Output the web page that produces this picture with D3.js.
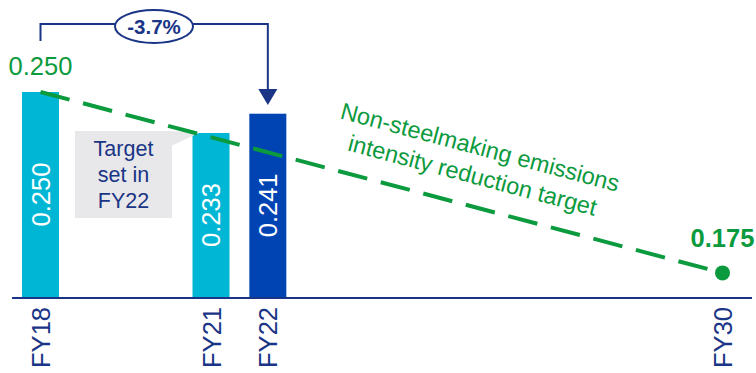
<!DOCTYPE html>
<html>
<head>
<meta charset="utf-8">
<script src="https://cdn.jsdelivr.net/npm/d3@7"></script>
<style>
    body { margin: 0; background: #fff; }
    svg { display: block; font-family: Arial, "Liberation Sans", sans-serif; }
</style>
</head>
<body>
<div id="chart"></div>
<script>
// data
var years = [18, 21, 22, 30];
var yearLabels = ['FY18', 'FY21', 'FY22', 'FY30'];
var barYears = [18, 21, 22];
var barValues = [0.250, 0.233, 0.241];
var barLabels = ['0.250', '0.233', '0.241'];
var targetYears = [18, 30];
var targetValues = [0.250, 0.175];
var changeLabel = '-3.7%';
var calloutLines = ['Target', 'set in', 'FY22'];
var targetLines = ['Non-steelmaking emissions', 'intensity reduction target'];

const W = 756, H = 373,
    Cyan = '#00b6d5', Blue = '#0044b4', Navy = '#1a3586',
    Green = '#0b9a3d', Grey = '#e8e8ea',
    BarWidth = 37;

var svg = d3.select('#chart').append('svg')
    .attr('width', W)
    .attr('height', H);

var x = d3.scaleLinear().domain([18, 30]).range([40.5, 722.5]);
var y = d3.scaleLinear().domain([0.165, 0.25]).range([297, 92]);

// bars
var bars = svg.selectAll('.bar')
    .data(barYears)
    .enter().append('g')
    .attr('class', 'bar');

bars.append('rect')
    .attr('x', d => x(d) - BarWidth / 2)
    .attr('width', BarWidth)
    .attr('y', (d, i) => y(barValues[i]))
    .attr('height', (d, i) => y(0.165) - y(barValues[i]))
    .attr('fill', d => d === 22 ? Blue : Cyan);

bars.append('text')
    .attr('transform', (d, i) =>
        `translate(${x(d) + 9},${(y(barValues[i]) + y(0.165)) / 2}) rotate(-90)`)
    .attr('text-anchor', 'middle')
    .attr('fill', '#fff')
    .style('font-size', '25.5px')
    .text((d, i) => barLabels[i]);

// axis line
svg.append('line')
    .attr('x1', 12).attr('x2', 752)
    .attr('y1', y(0.165) + 1).attr('y2', y(0.165) + 1)
    .attr('stroke', Navy)
    .attr('stroke-width', 2);

// x labels
svg.selectAll('.xlab')
    .data(years)
    .enter().append('text')
    .attr('class', 'xlab')
    .attr('transform', d => `translate(${x(d) + 9.5},307) rotate(-90)`)
    .attr('text-anchor', 'end')
    .attr('fill', Navy)
    .style('font-size', '25.5px')
    .text((d, i) => yearLabels[i]);

// callout
svg.append('path')
    .attr('d', 'M171,131 L199,133 L171,146 Z')
    .attr('fill', Grey);
svg.append('rect')
    .attr('x', 75).attr('y', 131)
    .attr('width', 97).attr('height', 87)
    .attr('fill', Grey);
svg.append('text')
    .attr('text-anchor', 'middle')
    .attr('fill', Navy)
    .style('font-size', '21.5px')
    .selectAll('tspan')
    .data(calloutLines)
    .enter().append('tspan')
    .attr('x', 123.5)
    .attr('y', (d, i) => 156 + i * 26)
    .text(d => d);

// target line
svg.append('line')
    .attr('x1', x(targetYears[0])).attr('y1', y(targetValues[0]))
    .attr('x2', x(targetYears[1])).attr('y2', y(targetValues[1]))
    .attr('stroke', Green)
    .attr('stroke-width', 4)
    .attr('stroke-dasharray', '30 14');

svg.append('circle')
    .attr('cx', x(targetYears[1])).attr('cy', y(targetValues[1]))
    .attr('r', 7.5)
    .attr('fill', Green);

svg.append('text')
    .attr('x', x(targetYears[0])).attr('y', 75)
    .attr('text-anchor', 'middle')
    .attr('fill', Green)
    .style('font-size', '25.5px')
    .text('0.250');

svg.append('text')
    .attr('x', x(targetYears[1])).attr('y', 247)
    .attr('text-anchor', 'middle')
    .attr('fill', Green)
    .style('font-size', '25.5px')
    .style('font-weight', 'bold')
    .text('0.175');

var angle = Math.atan2(y(targetValues[1]) - y(targetValues[0]),
    x(targetYears[1]) - x(targetYears[0])) * 180 / Math.PI;
svg.append('text')
    .attr('transform', `translate(478,155) rotate(${angle})`)
    .attr('text-anchor', 'middle')
    .attr('fill', Green)
    .style('font-size', '23.5px')
    .selectAll('tspan')
    .data(targetLines)
    .enter().append('tspan')
    .attr('x', 0)
    .attr('y', (d, i) => i * 29)
    .text(d => d);

// change bracket
var bx1 = x(18), bx2 = x(22), by = 24;
svg.append('path')
    .attr('d', `M${bx1},41 V${by} H${bx2} V92`)
    .attr('fill', 'none')
    .attr('stroke', Navy)
    .attr('stroke-width', 2);
svg.append('path')
    .attr('d', `M${bx2 - 9.5},89 L${bx2 + 9.5},89 L${bx2},105 Z`)
    .attr('fill', Navy);
svg.append('ellipse')
    .attr('cx', 154).attr('cy', 26.5)
    .attr('rx', 39).attr('ry', 16.5)
    .attr('fill', '#fff')
    .attr('stroke', Navy)
    .attr('stroke-width', 2);
svg.append('text')
    .attr('x', 154).attr('y', 33.5)
    .attr('text-anchor', 'middle')
    .attr('fill', Navy)
    .style('font-size', '20.5px')
    .style('font-weight', 'bold')
    .text(changeLabel);
</script>
</body>
</html>
